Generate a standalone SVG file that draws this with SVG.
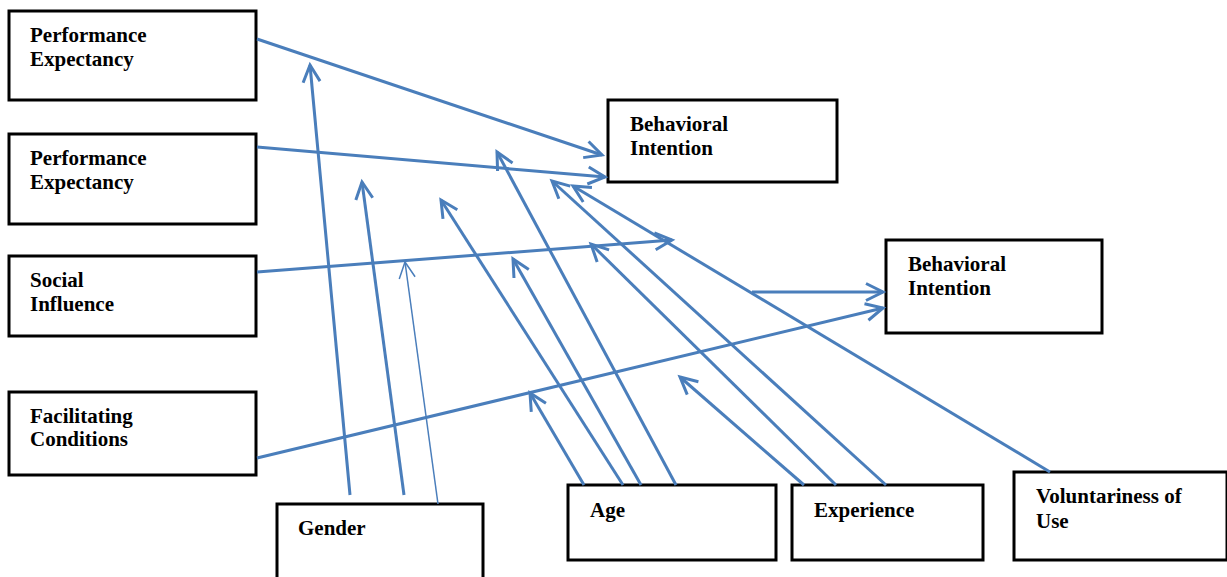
<svg xmlns="http://www.w3.org/2000/svg" width="1227" height="577" viewBox="0 0 1227 577">
<style>
.box{fill:#fff;stroke:#000;stroke-width:3}
.t{font-family:"Liberation Serif","Times New Roman",serif;font-weight:bold;font-size:21px;fill:#000}
.c{stroke:#4a7ebb;stroke-width:3;fill:none;marker-end:url(#a)}
.thin{stroke:#4a7ebb;stroke-width:1.5;fill:none;marker-end:url(#b)}
</style>
<defs>
<marker id="a" markerUnits="userSpaceOnUse" markerWidth="40" markerHeight="40" refX="0" refY="0" orient="auto" overflow="visible">
<path d="M-17,-8.5 L0,0 L-17,8.5" fill="none" stroke="#4a7ebb" stroke-width="3"/>
</marker>
<marker id="b" markerUnits="userSpaceOnUse" markerWidth="40" markerHeight="40" refX="0" refY="0" orient="auto" overflow="visible">
<path d="M-16,-8 L0,0 L-16,8" fill="none" stroke="#4a7ebb" stroke-width="1.5"/>
</marker>
</defs>
<g id="pe1"><rect class="box" x="9" y="11" width="247" height="89"/><text class="t" x="30" y="42">Performance</text><text class="t" x="30" y="66">Expectancy</text></g>
<g id="pe2"><rect class="box" x="9" y="134" width="247" height="90"/><text class="t" x="30" y="165">Performance</text><text class="t" x="30" y="189">Expectancy</text></g>
<g id="si"><rect class="box" x="9" y="256" width="247" height="80"/><text class="t" x="30" y="287">Social</text><text class="t" x="30" y="311">Influence</text></g>
<g id="fc"><rect class="box" x="9" y="392" width="247" height="83"/><text class="t" x="30" y="423">Facilitating</text><text class="t" x="30" y="446">Conditions</text></g>
<g id="bi1"><rect class="box" x="608" y="100" width="229" height="82"/><text class="t" x="630" y="131">Behavioral</text><text class="t" x="630" y="155">Intention</text></g>
<g id="bi2"><rect class="box" x="886" y="240" width="216" height="93"/><text class="t" x="908" y="271">Behavioral</text><text class="t" x="908" y="295">Intention</text></g>
<g id="gender"><rect class="box" x="277" y="504" width="206" height="80"/><text class="t" x="298" y="535">Gender</text></g>
<g id="age"><rect class="box" x="568" y="485" width="208" height="75"/><text class="t" x="590" y="517">Age</text></g>
<g id="experience"><rect class="box" x="792" y="485" width="191" height="75"/><text class="t" x="814" y="517">Experience</text></g>
<g id="voluntariness"><rect class="box" x="1014" y="472" width="213" height="88"/><text class="t" x="1036" y="503">Voluntariness of</text><text class="t" x="1036" y="528">Use</text></g>
<g id="connectors">
<line class="c" x1="257" y1="39" x2="602" y2="155"/>
<line class="c" x1="257" y1="147" x2="605" y2="177"/>
<line class="c" x1="257" y1="272" x2="672" y2="240"/>
<line class="c" x1="257" y1="458" x2="883" y2="308"/>
<line class="c" x1="752" y1="292" x2="883" y2="292"/>
<line class="c" x1="1050" y1="472" x2="573" y2="186"/>
<line class="c" x1="350" y1="495" x2="310" y2="65"/>
<line class="c" x1="404" y1="495" x2="362" y2="182"/>
<line class="thin" x1="438" y1="504" x2="405" y2="262"/>
<line class="c" x1="584" y1="485" x2="530" y2="393"/>
<line class="c" x1="623" y1="485" x2="441" y2="200"/>
<line class="c" x1="641" y1="485" x2="513" y2="259"/>
<line class="c" x1="676" y1="485" x2="497" y2="152"/>
<line class="c" x1="804" y1="485" x2="680" y2="377"/>
<line class="c" x1="836" y1="485" x2="591" y2="244"/>
<line class="c" x1="886" y1="485" x2="552" y2="181"/>
</g>
</svg>
